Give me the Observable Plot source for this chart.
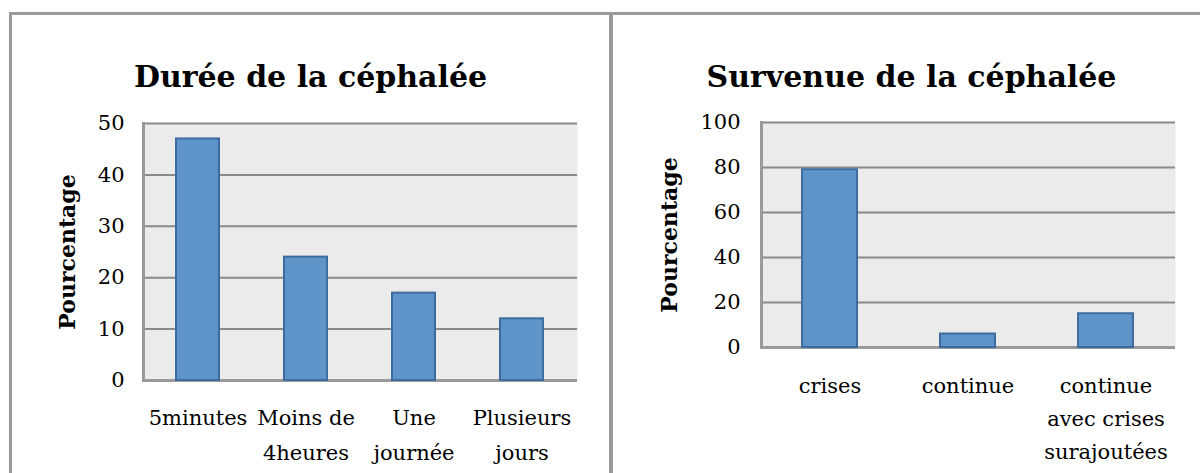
<!DOCTYPE html>
<html>
<head>
<meta charset="utf-8">
<script src="https://cdn.jsdelivr.net/npm/d3@7"></script>
<script src="https://cdn.jsdelivr.net/npm/@observablehq/plot@0.6"></script>
<style>
  html, body { margin: 0; padding: 0; background: #fff; }
  #root { position: relative; width: 1200px; height: 473px; overflow: hidden; background: #fff; }
  .line { position: absolute; background: #9a9a9a; }
  .title { position: absolute; font-family: "DejaVu Serif", serif; font-weight: bold; font-size: 30px; line-height: 36px; color: #000; text-align: center; white-space: nowrap; }
  .panel { position: absolute; top: 0; }
  .panel svg { display: block; }
</style>
</head>
<body>
<div id="root">
  <div class="line" style="left:9px;top:12px;width:1191px;height:3px;"></div>
  <div class="line" style="left:9px;top:12px;width:3px;height:461px;"></div>
  <div class="line" style="left:609px;top:12px;width:4px;height:461px;"></div>
  <div id="left" class="panel" style="left:0px;"></div>
  <div id="right" class="panel" style="left:612px;"></div>
  <div class="title" style="left:12px;width:597px;top:59px;">Durée de la céphalée</div>
  <div class="title" style="left:613px;width:597px;top:59px;">Survenue de la céphalée</div>
</div>
<script>
const durCategories = ["5minutes", "Moins de 4heures", "Une journée", "Plusieurs jours"];
const durLabels = ["5minutes", "Moins de\n4heures", "Une\njournée", "Plusieurs\njours"];
const durValues = [47, 24, 17, 12];
const durTicks = [0, 10, 20, 30, 40, 50];

const survCategories = ["crises", "continue", "continue avec crises surajoutées"];
const survLabels = ["crises", "continue", "continue\navec crises\nsurajoutées"];
const survValues = [79, 6, 15];
const survTicks = [0, 20, 40, 60, 80, 100];

const yLabel = "Pourcentage";

function makeChart({categories, labels, values, ticks, width, marginLeft, marginRight, marginTop, marginBottom, yTickPadding, xTickPadding, lineHeight, ylabelDx}) {
  const data = categories.map((c, i) => ({category: c, value: values[i]}));
  const font = "DejaVu Serif, serif";
  return Plot.plot({
    width,
    height: 473,
    marginLeft, marginRight, marginTop, marginBottom,
    style: {fontFamily: font, fontSize: "22px", color: "#000", background: "transparent"},
    x: {domain: categories, paddingInner: 0.6, paddingOuter: 0.3, label: null},
    y: {domain: [0, d3.max(ticks)], label: null},
    marks: [
      Plot.frame({fill: "#ebebeb", stroke: null}),
      Plot.gridY(ticks, {stroke: "#8a8a8a", strokeOpacity: 1, strokeWidth: 2}),
      Plot.frame({anchor: "left", stroke: "#9a9a9a", strokeWidth: 3}),
      Plot.ruleY([0], {stroke: "#9a9a9a", strokeWidth: 3}),
      Plot.barY(data, {x: "category", y: "value", fill: "#5e94c9", stroke: "#3e6c9e", strokeWidth: 2}),
      Plot.axisY(ticks, {tickSize: 0, tickPadding: yTickPadding, fontSize: 21, fill: "#000", label: null}),
      Plot.axisX({tickSize: 0, tickPadding: xTickPadding, fontSize: 21, fill: "#000", lineHeight, label: null,
        tickFormat: d => labels[categories.indexOf(d)]}),
      Plot.text([yLabel], {frameAnchor: "left", textAnchor: "middle", rotate: -90, dx: ylabelDx, fontWeight: "bold", fontSize: 22, fill: "#000"})
    ]
  });
}

document.getElementById("left").appendChild(makeChart({
  categories: durCategories, labels: durLabels, values: durValues, ticks: durTicks,
  width: 612, marginLeft: 143, marginRight: 35, marginTop: 123, marginBottom: 93,
  yTickPadding: 19, xTickPadding: 20, lineHeight: 1.65, ylabelDx: -76
}));
document.getElementById("right").appendChild(makeChart({
  categories: survCategories, labels: survLabels, values: survValues, ticks: survTicks,
  width: 588, marginLeft: 149, marginRight: 25, marginTop: 122, marginBottom: 126,
  yTickPadding: 21, xTickPadding: 22, lineHeight: 1.58, ylabelDx: -92
}));
</script>
</body>
</html>
